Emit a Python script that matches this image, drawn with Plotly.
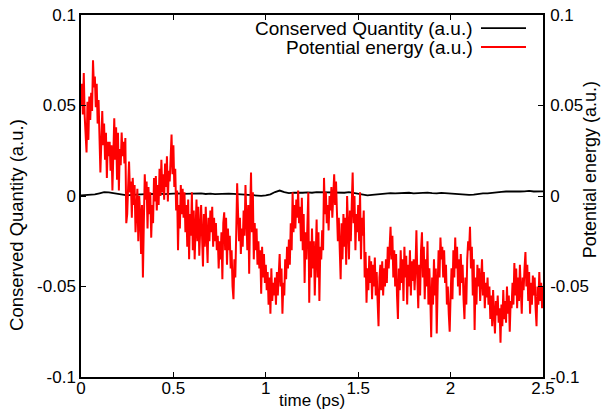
import numpy as np
import plotly.graph_objects as go

# time axis (ps)
t_pot = np.linspace(0, 2.5, 501)   # step 0.005 ps
t_cons = np.linspace(0, 2.5, 101)  # step 0.025 ps

# potential energy in units of 1e-3 a.u.
pot_milli = [
    50, 62, 45, 68, 44, 35, 24, 52, 31, 55,
    42, 57, 47, 75, 60, 66, 49, 62, 40, 53,
    25, 13, 30, 47, 28, 40, 20, 35, 10, 30,
    22, 30, 14, 28, 3, 25, 43, 20, 38, 9,
    35, 3, 26, 17, 35, 22, 30, 18, 32, -15,
    -10, 5, 19, 2, 8, -12, 10, -5, 6, -20,
    -8, 4, -25, 0, -10, -32, -5, -45, -15, 12,
    -2, 8, -18, 5, -10, 2, -23, -5, -15, 10,
    -3, 11, -8, 6, -5, 15, 0, 20, 2, 12,
    -2, 18, 5, 22, -3, 14, 8, 25, 34, 12,
    28, 5, 15, -8, 3, -30, -5, -18, 6, -10,
    4, -12, 2, -20, -5, -28, -2, -35, -10, -22,
    2, -30, -8, -35, -12, -2, -25, -6, -33, -15,
    -5, -22, -39, -10, -28, -6, -20, -37, -12, -25,
    -8, -20, -6, -28, -12, -25, -15, -30, -22, -40,
    -25, -35, -20, -46, -15, -9, -30, -12, -38, -18,
    -30, -22, -40, -30, -50, -57, -35, -45, -20, 7,
    -10, -25, -12, -32, -18, -28, -8, -22, 6, -15,
    -30, -5, -43, -10, 13, -20, 2, -35, -15, -30,
    -18, -38, -25, -40, -30, -54, -28, -45, -32, -48,
    -38, -52, -42, -60, -45, -65, -40, -58, -48, -55,
    -45, -60, -42, -55, -38, -32, -50, -40, -65, -48,
    -55, -35, -46, -28, -40, -24, -38, -15, -30, 2,
    -20, -5, -18, -2, -12, 3, -15, -6, -25, -1,
    -30, -10, -48, -20, -35, -12, 2, -59, -25, -45,
    -18, -40, -25, -55, -30, -13, -45, -20, -58, -28,
    -35, -19, -30, 10, -10, 2, -15, -5, -19, 0,
    -8, 5, -12, 3, 12, -5, 8, -9, -25, -12,
    -30, -46, -15, -35, -10, -28, -12, -38, 0, -20,
    -35, -8, -25, -5, 13, -15, 0, -30, -10, -20,
    -5, -25, 2, -35, -12, -22, -8, -45, -31, -59,
    -40, -52, -33, -48, -36, -57, -38, -50, -34, -55,
    -42, -58, -72, -45, -38, -52, -36, -55, -40, -50,
    -35, -48, -28, -40, -25, -17, -35, -22, -45, -30,
    -50, -32, -55, -68, -40, -52, -30, -48, -35, -58,
    -28, -45, -33, -60, -38, -50, -30, -55, -36, -47,
    -35, -52, -40, -19, -45, -62, -38, -55, -30, -20,
    -45, -28, -57, -35, -50, -25, -60, -40, -55, -78,
    -45, -60, -35, -55, -40, -76, -50, -30, -45, -23,
    -35, -28, -45, -30, -48, -38, -60, -50, -65, -75,
    -55, -40, -57, -30, -45, -23, -40, -28, -50, -35,
    -55, -32, -48, -38, -57, -68, -45, -60, -35, -25,
    -30, -17, -40, -28, -55, -35, -74, -45, -60, -38,
    -50, -40, -58, -45, -35, -55, -42, -62, -48, -56,
    -45, -60, -50, -68, -55, -72, -52, -65, -76, -58,
    -66, -55, -70, -62, -81, -60, -72, -52, -68, -58,
    -70, -50, -65, -55, -75, -58, -62, -48, -60, -37,
    -55, -40, -62, -45, -58, -38, -50, -65, -45, -52,
    -40, -31, -50, -38, -58, -42, -65, -48, -60, -44,
    -55, -45, -62, -72, -50, -60, -42, -58, -48, -62,
    -50,
]

# conserved quantity, 1e-3 a.u.
cons_milli = [
    0.3, 0.5, 0.4, 0.9, 1.5, 2.1, 2.0, 1.6, 1.1, 0.8,
    0.4, 0.6, 0.8, 1.0, 0.9, 1.2, 1.1, 1.3, 1.0, 1.2,
    1.1, 1.4, 1.2, 1.3, 1.0, 1.2, 1.4, 1.1, 1.3, 1.0,
    1.2, 1.1, 1.3, 1.2, 1.0, 1.2, 0.8, 0.5, 0.2, 0.1,
    0.4, 0.9, 2.2, 3.0, 2.1, 1.6, 1.9, 1.7, 1.8, 2.0,
    1.8, 2.1, 2.0, 2.2, 1.9, 2.1, 2.0, 1.8, 2.1, 1.7,
    1.3, 0.7, 0.4, 0.6, 0.9, 1.1, 1.4, 1.6, 1.5, 1.7,
    1.6, 1.8, 1.5, 1.7, 1.6, 1.9, 1.6, 1.4, 1.7, 1.5,
    1.3, 1.0, 0.8, 0.7, 0.6, 0.8, 1.2, 1.5, 1.4, 1.8,
    2.0, 2.3, 2.5, 2.4, 2.7, 2.5, 2.6, 2.8, 2.5, 2.7,
    2.6,
]

pot = np.array(pot_milli) / 1000.0
cons = np.array(cons_milli) / 1000.0

y_ticks = [-0.1, -0.05, 0, 0.05, 0.1]
y_text = ['-0.1', '-0.05', '0', '0.05', '0.1']
x_ticks = [0, 0.5, 1, 1.5, 2, 2.5]
x_text = ['0', '0.5', '1', '1.5', '2', '2.5']

FONT = 'Liberation Sans, Arial, sans-serif'

fig = go.Figure()
fig.add_trace(go.Scatter(x=t_cons, y=cons, mode='lines',
                         line=dict(color='black', width=1.8),
                         name='Conserved Quantity (a.u.)'))
fig.add_trace(go.Scatter(x=t_pot, y=pot, mode='lines',
                         line=dict(color='#ff0000', width=2),
                         name='Potential energy (a.u.)', yaxis='y2'))

axis_common = dict(showgrid=False, zeroline=False, showline=True,
                   linecolor='black', linewidth=1.5, ticks='inside',
                   ticklen=5, tickcolor='black', automargin=False,
                   tickfont=dict(family=FONT, size=17, color='black'))

fig.update_layout(
    width=603, height=411,
    margin=dict(l=81, r=60, t=15, b=34),
    paper_bgcolor='white', plot_bgcolor='white',
    showlegend=False,
    font=dict(family=FONT, size=17, color='black'),
    xaxis=dict(range=[0, 2.5], tickvals=x_ticks, ticktext=x_text,
               mirror='ticks', ticklabelstandoff=-5, **axis_common),
    yaxis=dict(range=[-0.1, 0.1], tickvals=y_ticks, ticktext=y_text,
               **axis_common),
    yaxis2=dict(range=[-0.1, 0.1], tickvals=y_ticks, ticktext=y_text,
                overlaying='y', side='right', ticklabelstandoff=2,
                **axis_common),
)

# axis titles
fig.add_annotation(text='time (ps)', x=0.5, y=-0.066, xref='paper', yref='paper',
                   showarrow=False, xanchor='center', yanchor='middle',
                   font=dict(size=17))
fig.add_annotation(text='Conserved Quantity (a.u.)', x=-0.1385, y=0.42,
                   xref='paper', yref='paper', showarrow=False, textangle=-90,
                   xanchor='center', yanchor='middle', font=dict(size=18.5))
fig.add_annotation(text='Potential energy (a.u.)', x=1.102, y=0.5718,
                   xref='paper', yref='paper', showarrow=False, textangle=-90,
                   xanchor='center', yanchor='middle', font=dict(size=18))

# gnuplot-style key, text right aligned with the sample line after it
key = [('Conserved Quantity (a.u.)', 'black', 0.964),
       ('Potential energy (a.u.)', '#ff0000', 0.9116)]
for label, colour, ky in key:
    fig.add_annotation(text=label, x=0.852, y=ky, xref='paper', yref='paper',
                       showarrow=False, xanchor='right', yanchor='middle',
                       font=dict(size=19))
    fig.add_shape(type='line', xref='paper', yref='paper',
                  x0=0.8658, x1=0.9632, y0=ky, y1=ky,
                  line=dict(color=colour, width=1.8))

# drop the default 8px body margin so the figure sits at the page corner
fig.write_html("out.html", config={'displayModeBar': False},
               post_script="document.body.style.margin='0';")
